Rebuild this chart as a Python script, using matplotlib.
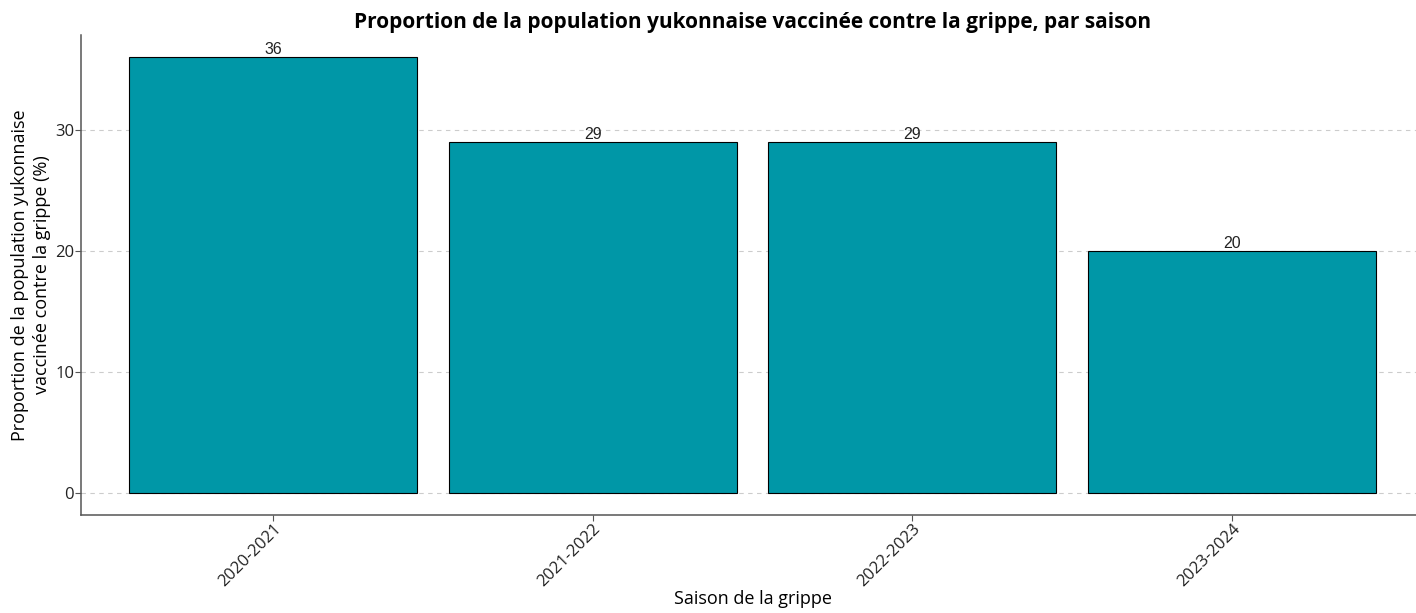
import matplotlib
matplotlib.use("Agg")
import matplotlib.pyplot as plt
import numpy as np

# data
saisons = ["2020-2021", "2021-2022", "2022-2023", "2023-2024"]
proportions = [36, 29, 29, 20]

BAR_COLOR = "#0097A7"
AXIS_COLOR = "#555555"

plt.rcParams['font.family'] = ['Open Sans', 'DejaVu Sans']

fig = plt.figure(figsize=(14.16, 6.13), dpi=100)
ax = fig.add_axes([81 / 1416, 1 - 515 / 613, (1424 - 81) / 1416, (515 - 35) / 613])

x = np.arange(1, len(saisons) + 1)
bars = ax.bar(x, proportions, width=0.9, color=BAR_COLOR, edgecolor="black",
              linewidth=0.8, zorder=3)

for xi, v in zip(x, proportions):
    ax.text(xi, v, f"{v}", ha="center", va="bottom", fontsize=11.5,
            family=['Liberation Sans', 'DejaVu Sans'], color="#222222", zorder=4)

ax.set_xlim(0.4, 4.6)
ax.set_ylim(-1.8, 37.8)
ax.set_yticks([0, 10, 20, 30])
ax.set_xticks(x)
ax.set_xticklabels(saisons, rotation=45, ha="right", va="top",
                   rotation_mode="anchor", fontsize=12, color="#222222")
ax.tick_params(axis="y", labelsize=12, labelcolor="#222222", color=AXIS_COLOR,
               length=4, pad=1)
ax.tick_params(axis="x", color=AXIS_COLOR, length=4, pad=0)

ax.yaxis.grid(True, linestyle=(0, (4, 4)), color="#cccccc", linewidth=0.8, zorder=0)
ax.xaxis.grid(False)

for side in ["top", "right"]:
    ax.spines[side].set_visible(False)
for side in ["left", "bottom"]:
    ax.spines[side].set_color(AXIS_COLOR)
    ax.spines[side].set_linewidth(1.1)

ax.set_title("Proportion de la population yukonnaise vaccinée contre la grippe, par saison",
             fontsize=15, fontweight="bold", pad=5)
ax.set_xlabel("Saison de la grippe", fontsize=13, labelpad=0)
ax.set_ylabel("Proportion de la population yukonnaise\nvaccinée contre la grippe (%)",
              fontsize=13, labelpad=3, linespacing=1.3)

fig.savefig("out.png", dpi=100)
